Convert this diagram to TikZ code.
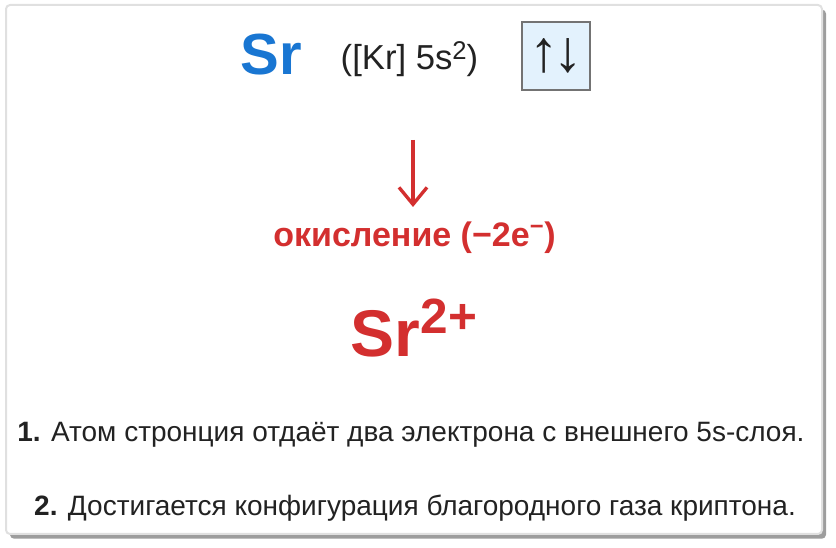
\documentclass[tikz,border=0pt]{standalone}
\usepackage{fontspec}
\setmainfont{Liberation Sans}
\usetikzlibrary{positioning,arrows.meta,shadows}
\definecolor{srblue}{HTML}{1976D2}
\definecolor{oxred}{HTML}{D32F2F}
\definecolor{txtdark}{HTML}{222222}
\definecolor{orbfill}{HTML}{E3F2FD}
\newcommand{\supidx}[3]{\raisebox{#1}{\scalebox{#2}{#3}}}

\begin{document}
\begin{tikzpicture}[x=0.75pt, y=-0.75pt,
  every node/.style = {inner sep=0pt, outer sep=0pt, text=txtdark},
  card/.style = {draw=black!12, line width=1.5pt, fill=white, rounded corners=3pt,
    drop shadow={shadow xshift=3pt, shadow yshift=-3.5pt, fill=black!55, opacity=.7}},
  orbital/.style = {draw=black!55, line width=0.8pt, fill=orbfill,
    minimum width=51pt, minimum height=51pt, font=\fontsize{44}{50}\selectfont},
  note/.style = {font=\fontsize{21}{24}\selectfont, anchor=base}]
  \useasboundingbox (0,0) rectangle (836,548);
  \node[card, minimum width=612pt, minimum height=396.75pt] (card) at (414,269.5) {};
  % ground state
  \node[anchor=base, text=srblue, font=\fontsize{43.5}{48}\selectfont\bfseries] (sr) at (271,75) {Sr};
  \node[anchor=base, font=\fontsize{26}{30}\selectfont] (config) at (409.5,70) {([Kr] 5s\supidx{0.3em}{0.74}{2})};
  \node[orbital] (orb) at (556,56) {↑\kern-0.1em↓};
  % oxidation
  \coordinate (arrtop) at (413,140);
  \coordinate (arrbot) at (413,207);
  \draw[oxred, line width=2.5pt, -{Straight Barb[length=12.75pt, width=21pt, line width=2.5pt]}] (arrtop) -- (arrbot);
  \node[anchor=base, text=oxred, font=\fontsize{25.5}{30}\selectfont\bfseries] (ox) at (414.5,247) {окисление (−2e\textsuperscript{−})};
  \node[anchor=base, text=oxred, font=\fontsize{49.5}{54}\selectfont\bfseries] (ion) at (414,357) {Sr\supidx{0.36em}{0.75}{2+}};
  % notes
  \node[note] (note1) at (411,442) {\textbf{1.} Атом стронция отдаёт два электрона с внешнего 5s-слоя.};
  \node[note] (note2) at (415,516) {\textbf{2.} Достигается конфигурация благородного газа криптона.};
\end{tikzpicture}
\end{document}
